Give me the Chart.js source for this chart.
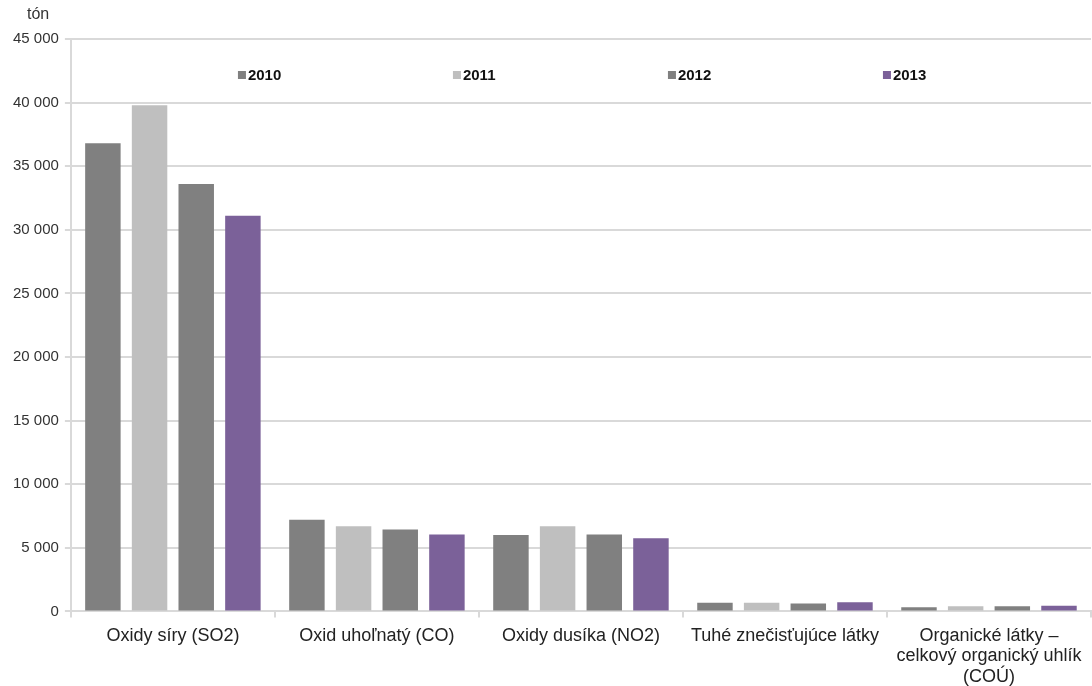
<!DOCTYPE html>
<html>
<head>
<meta charset="utf-8">
<script src="https://cdn.jsdelivr.net/npm/chart.js@4/dist/chart.umd.min.js"></script>
<style>
  html, body { margin: 0; padding: 0; background: #fff; }
  #wrap { width: 1092px; height: 686px; position: relative; }
</style>
</head>
<body>
<div id="wrap"><canvas id="chart" width="1092" height="686"></canvas></div>
<script>
// categories (pollutants)
const categories = [
  'Oxidy síry (SO2)',
  'Oxid uhoľnatý (CO)',
  'Oxidy dusíka (NO2)',
  'Tuhé znečisťujúce látky',
  ['Organické látky –', 'celkový organický uhlík', '(COÚ)']
]
const years = ['2010', '2011', '2012', '2013']

// emissions in tons
const v2010 = [36800, 7200, 6000, 690, 330]
const v2011 = [39800, 6700, 6700, 690, 400]
const v2012 = [33600, 6450, 6050, 620, 400]
const v2013 = [31100, 6050, 5750, 730, 450]

const colors = ['#808080', '#bfbfbf', '#808080', '#7b6199']
const font = 'Liberation Sans, Arial, sans-serif'

// legend + unit label drawn inside the plot, like the original
const extras = {
  id: 'extras',
  afterDraw(chart) {
    const ctx = chart.ctx
    const area = chart.chartArea
    ctx.save()
    ctx.fillStyle = '#333'
    ctx.font = '16px ' + font
    ctx.textBaseline = 'middle'
    ctx.textAlign = 'left'
    ctx.fillText('tón', 27, 15)

    const step = 215
    const groupW = step * (years.length - 1) + 41
    let x = (area.left + area.right) / 2 - groupW / 2
    const y = area.top + 36
    ctx.font = 'bold 15px ' + font
    chart.data.datasets.forEach((ds, i) => {
      ctx.fillStyle = ds.backgroundColor
      ctx.fillRect(x, y - 4, 8, 8)
      ctx.fillStyle = '#111'
      ctx.fillText(ds.label, x + 10, y + 1)
      x += step
    })
    ctx.restore()
  }
}

const datasets = [v2010, v2011, v2012, v2013].map((vals, i) => ({
  label: years[i],
  data: vals,
  backgroundColor: colors[i],
  categoryPercentage: 0.915,
  barPercentage: 0.76
}))

new Chart(document.getElementById('chart'), {
  type: 'bar',
  data: { labels: categories, datasets: datasets },
  options: {
    responsive: false,
    animation: false,
    layout: { padding: { top: 39, right: 1, left: 7, bottom: -9 } },
    plugins: {
      legend: { display: false },
      tooltip: { enabled: false }
    },
    scales: {
      x: {
        grid: {
          drawOnChartArea: false,
          drawTicks: true,
          tickLength: 6,
          color: '#d9d9d9',
          lineWidth: 2
        },
        border: { color: '#d9d9d9', width: 2 },
        ticks: {
          color: '#222',
          font: { family: font, size: 18, lineHeight: 1.14 },
          padding: 8,
          maxRotation: 0,
          autoSkip: false
        }
      },
      y: {
        min: 0,
        max: 45000,
        ticks: {
          stepSize: 5000,
          color: '#333',
          font: { family: font, size: 15 },
          padding: 6,
          callback: v => v.toLocaleString('en-US').replace(/,/g, ' ')
        },
        grid: { color: '#d9d9d9', lineWidth: 2, tickLength: 6 },
        border: { color: '#d9d9d9', width: 2 }
      }
    }
  },
  plugins: [extras]
})
</script>
</body>
</html>
